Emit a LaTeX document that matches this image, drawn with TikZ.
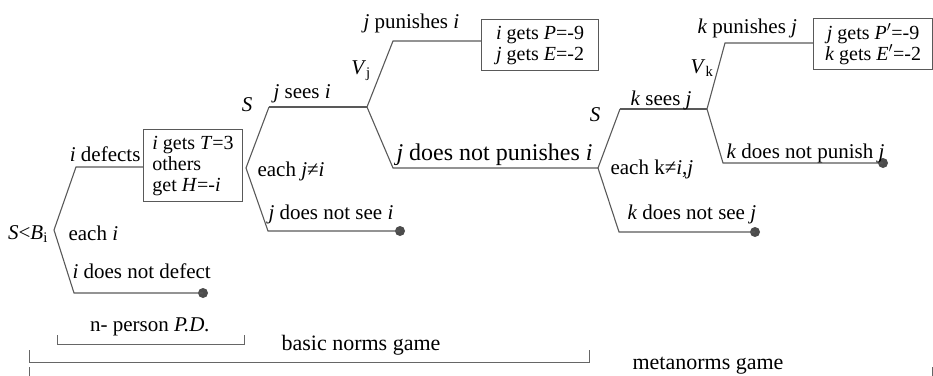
\documentclass[tikz,border=0pt]{standalone}
\usepackage{fontspec}
\setmainfont{Liberation Serif}
\usetikzlibrary{positioning}

\begin{document}
\begin{tikzpicture}[x=1pt, y=-1pt, line width=1.1pt,
        font=\fontsize{21}{21}\selectfont,
        branch/.style={draw=black!65, line join=miter},
        payoff/.style={draw=black!65, line width=1.1pt, inner sep=0pt, anchor=north west,
            font=\fontsize{20}{21}\selectfont},
        leaf/.style={circle, fill=black!70, inner sep=0pt, minimum size=10pt},
        lbl/.style={inner sep=0pt, anchor=base west},
        bracket/.style={draw=black!60, line width=0.9pt}]
        \useasboundingbox (0,0) rectangle (933,375);

        % Payoff boxes
        \node[payoff, minimum width=99, minimum height=72, align=left] (box1) at (143,129)
            {\textit{i} gets \textit{T}=3\\ others\\ get \textit{H}=-\textit{i}};
        \node[payoff, minimum width=117, minimum height=51, align=left] (box2) at (481,19)
            {\textit{i} gets \textit{P}=-9\\ \textit{j} gets \textit{E}=-2};
        \node[payoff, minimum width=119, minimum height=51, align=center] (box3) at (813,18)
            {\textit{j} gets \textit{P}$'$=-9\\ \textit{k} gets \textit{E}$'$=-2};

        % Tree points
        \coordinate (root) at (54,230);
        \coordinate (root-up) at (76,167);
        \coordinate (root-dn) at (74,293);
        \coordinate (see) at (246,168);
        \coordinate (see-up) at (269,107);
        \coordinate (see-dn) at (268,231);
        \coordinate (vj) at (367,107);
        \coordinate (vj-up) at (393,41);
        \coordinate (vj-dn) at (393,168);
        \coordinate (meta) at (598,168);
        \coordinate (meta-up) at (620,109);
        \coordinate (meta-dn) at (619,232);
        \coordinate (vk) at (707,109);
        \coordinate (vk-up) at (725,43);
        \coordinate (vk-dn) at (723,163);

        % Leaf nodes
        \node[leaf] (leaf1) at (203,293) {};
        \node[leaf] (leaf2) at (400,231) {};
        \node[leaf] (leaf3) at (755,232) {};
        \node[leaf] (leaf4) at (883,163) {};

        % Branches
        \draw[branch] (root-up -| box1.west) -- (root-up) -- (root) -- (root-dn) -- (leaf1.center);
        \draw[branch] (see-up) -- (see) -- (see-dn) -- (leaf2.center);
        \draw[branch] (vj-up -| box2.west) -- (vj-up) -- (vj) -- (vj-dn) -- (meta);
        \draw[branch] (see-up) -- (vj);
        \draw[branch] (meta-up) -- (meta) -- (meta-dn) -- (leaf3.center);
        \draw[branch] (meta-up) -- (vk);
        \draw[branch] (vk-up -| box3.west) -- (vk-up) -- (vk) -- (vk-dn) -- (leaf4.center);

        % Labels, n-person P.D.
        \node[inner sep=0pt, anchor=base] (sb) at (28,239) {\textit{S}<\textit{B}\textsubscript{i}};
        \node[lbl, anchor=base east] (defects) at (141,161) {\textit{i} defects};
        \node[lbl] (eachi) at (68,240) {each \textit{i}};
        \node[lbl] (nodefect) at (72,278) {\textit{i} does not defect};

        % Labels, norms game
        \node[inner sep=0pt, anchor=base] (s1) at (247,111) {\textit{S}};
        \node[lbl] (sees1) at (273,98) {\textit{j} sees \textit{i}};
        \node[lbl] (eachj) at (257,176) {each \textit{j}≠\textit{i}};
        \node[lbl] (nosee1) at (268,219) {\textit{j} does not see \textit{i}};
        \node[lbl] (pun1) at (363,28) {\textit{j} punishes \textit{i}};
        \node[inner sep=0pt, anchor=base] (vjlabel) at (361,74) {\textit{V}\textsubscript{j}};
        \node[lbl, font=\fontsize{24}{26}\selectfont] (nopun1) at (396,160) {\textit{j} does not punishes \textit{i}};

        % Labels, metanorms game
        \node[inner sep=0pt, anchor=base] (s2) at (595,121) {\textit{S}};
        \node[lbl] (sees2) at (630,105) {\textit{k} sees \textit{j}};
        \node[lbl] (eachk) at (610,174) {each k≠\textit{i},\textit{j}};
        \node[lbl] (nosee2) at (627,219) {\textit{k} does not see \textit{j}};
        \node[lbl] (pun2) at (697,33) {\textit{k} punishes \textit{j}};
        \node[inner sep=0pt, anchor=base] (vklabel) at (702,73) {\textit{V}\textsubscript{k}};
        \node[lbl] (nopun2) at (726,158) {\textit{k} does not punish \textit{j}};

        % Game brackets
        \draw[bracket] (57,335) -- (57,344) -- (244,344) -- (244,335);
        \node[inner sep=0pt, anchor=base] (pd) at (150,331) {n- person \textit{P.D.}};
        \draw[bracket] (29,350) -- (29,362) -- (589,362) -- (589,350);
        \node[inner sep=0pt, anchor=base, font=\fontsize{22}{22}\selectfont] (basic) at (361,350) {basic norms game};
        \draw[bracket] (29,367) -- (29,385) -- (932,385) -- (932,367);
        \node[inner sep=0pt, anchor=base, font=\fontsize{22}{22}\selectfont] (metanorms) at (708,369) {metanorms game};
\end{tikzpicture}
\end{document}
